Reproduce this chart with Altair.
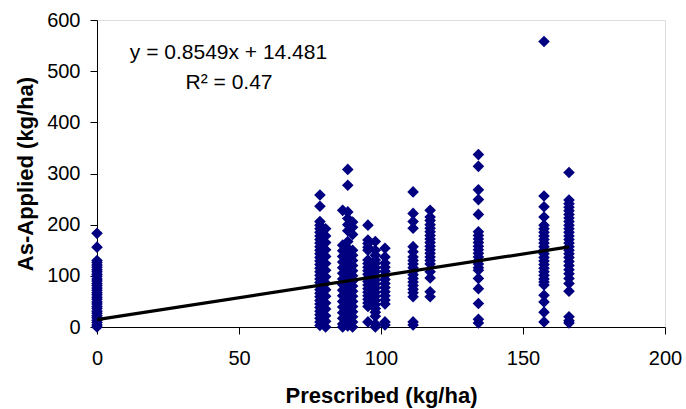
import altair as alt
import pandas as pd

# Prescribed rate columns (kg/ha)
prescribed = [0, 78.5, 80.5, 86.5, 88.3, 90.0, 95.4, 98.0, 101.4, 111.3, 117.3, 134.3, 157.4, 166.2]

# As-applied values (kg/ha) for each prescribed column
applied_0 = [183, 156, 130, 126, 121, 117, 112, 108, 103, 99, 94, 90, 85, 81, 76, 72, 67, 63, 58, 54,
             49, 45, 40, 36, 31, 27, 22, 18, 13, 9, 4, 0]
applied_78 = [258, 236, 206, 199, 192, 185, 178, 171, 164, 157, 150, 143, 136, 129, 122, 115, 108, 101,
              94, 87, 80, 73, 66, 59, 52, 45, 38, 31, 24, 17, 10, 3]
applied_80 = [192, 178, 165, 151, 138, 124, 111, 98, 86, 73, 60, 47, 35, 22, 11, 0]
applied_86 = [228, 160, 149, 138, 127, 116, 105, 94, 83, 72, 61, 50, 39, 28, 17, 6, 0]
applied_88 = [308, 277, 225, 212, 200, 188, 167, 154, 145, 136, 127, 118, 109, 100, 91, 82, 73, 64,
              55, 46, 37, 28, 19, 10, 2]
applied_90 = [205, 195, 181, 150, 140, 130, 120, 110, 100, 90, 80, 70, 60, 50, 40, 30, 20, 10, 0]
applied_95 = [199, 170, 163, 156, 150, 131, 124, 117, 110, 103, 96, 89, 82, 75, 68, 61, 54, 47, 40, 10]
applied_98 = [167, 150, 140, 131, 124, 116, 108, 100, 92, 84, 76, 68, 60, 52, 44, 36, 29, 21, 6, 0]
applied_101 = [154, 137, 125, 117, 109, 101, 93, 85, 77, 69, 61, 53, 45, 10, 4]
applied_111 = [264, 222, 206, 193, 157, 147, 137, 130, 123, 116, 109, 102, 95, 88, 81, 74, 67, 59, 10, 4]
applied_117 = [228, 215, 208, 200, 193, 186, 179, 172, 165, 158, 151, 144, 137, 130, 123, 108, 96, 69, 59]
applied_134 = [337, 314, 268, 249, 220, 186, 179, 172, 165, 158, 151, 144, 137, 130, 123, 116, 111,
               95, 75, 46, 15, 8]
applied_157 = [558, 256, 235, 215, 199, 192, 185, 178, 171, 164, 157, 150, 143, 136, 129, 122, 115,
               108, 101, 94, 88, 82, 62, 49, 29, 10]
applied_166 = [302, 248, 241, 234, 227, 220, 213, 206, 199, 192, 185, 178, 171, 164, 157, 150, 143,
               136, 128, 120, 112, 104, 95, 85, 70, 20, 12, 8]

applied = [applied_0, applied_78, applied_80, applied_86, applied_88, applied_90, applied_95,
           applied_98, applied_101, applied_111, applied_117, applied_134, applied_157, applied_166]

rows = [{"Prescribed": x, "Applied": y} for x, ys in zip(prescribed, applied) for y in ys]
df = pd.DataFrame(rows)

# Linear trendline from the chart's equation
slope, intercept = 0.8549, 14.481
trend_x = [0, 166.2]
trend = pd.DataFrame({"Prescribed": trend_x,
                      "Applied": [slope * x + intercept for x in trend_x]})

# Equation annotation
ann_text = ["y = 0.8549x + 14.481", "R² = 0.47"]
ann_x = [46.3, 46.5]
ann_y = [535, 477]
ann = pd.DataFrame({"Prescribed": ann_x, "Applied": ann_y, "label": ann_text})

FONT = "Liberation Sans"
x_scale = alt.Scale(domain=[0, 200], nice=False, zero=False)
y_scale = alt.Scale(domain=[0, 600], nice=False)

x_axis = alt.Axis(title="Prescribed (kg/ha)", values=[0, 50, 100, 150, 200], grid=False,
                  domainColor="black", tickColor="black", tickSize=7,
                  labelFont=FONT, labelFontSize=20, labelColor="black", labelPadding=14,
                  labelFlush=False,
                  titleFont=FONT, titleFontSize=22, titleFontWeight="bold", titleColor="black",
                  titleY=68, titleBaseline="middle")
y_axis = alt.Axis(title="As-Applied (kg/ha)", values=[0, 100, 200, 300, 400, 500, 600], grid=False,
                  domainColor="black", tickColor="black", tickSize=7,
                  labelFont=FONT, labelFontSize=20, labelColor="black", labelPadding=10,
                  labelFlush=False,
                  titleFont=FONT, titleFontSize=22, titleFontWeight="bold", titleColor="black",
                  titleX=-72, titleY=153.5, titleBaseline="middle")

points = alt.Chart(df).mark_point(shape="diamond", filled=True, size=135, color="#000080",
                                  opacity=1).encode(
    x=alt.X("Prescribed:Q", scale=x_scale, axis=x_axis),
    y=alt.Y("Applied:Q", scale=y_scale, axis=y_axis),
)

line = alt.Chart(trend).mark_line(color="black", strokeWidth=3.2).encode(
    x=alt.X("Prescribed:Q", scale=x_scale),
    y=alt.Y("Applied:Q", scale=y_scale),
)

text = alt.Chart(ann).mark_text(font=FONT, fontSize=21, color="black", align="center",
                                baseline="middle").encode(
    x=alt.X("Prescribed:Q", scale=x_scale),
    y=alt.Y("Applied:Q", scale=y_scale),
    text="label:N",
)

chart = alt.layer(points, line, text).properties(
    width=568, height=307,
    autosize=alt.AutoSizeParams(type="none"),
    padding={"left": 97, "top": 20, "right": 21, "bottom": 82},
).configure_view(stroke="#808080", strokeWidth=1).configure(background="white")

chart.save("out.html", embed_options={"renderer": "svg", "actions": False})
